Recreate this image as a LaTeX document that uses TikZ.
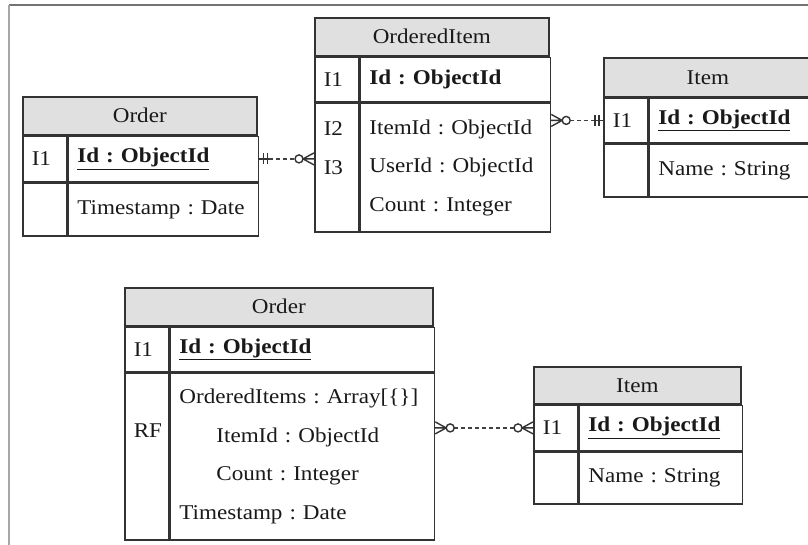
\documentclass[tikz,border=0pt]{standalone}
\usepackage{fontspec}
\setmainfont{Liberation Serif}[FakeStretch=1.1,WordSpace=0.8]
\usepackage{tikz}
\frenchspacing

\newcommand{\pkey}[1]{\underline{\textbf{#1}}}

\tikzset{
  cell/.style={draw=black!80,line width=1.6pt,rectangle,inner sep=0pt,text=black!90,anchor=north west},
  headcell/.style={cell,fill=black!12,minimum height=38pt},
  keycell/.style={cell,inner xsep=9pt,text width=26pt,align=left},
  fieldcell/.style={cell,inner xsep=9pt,align=left},
  relline/.style={draw=black!75,line width=1.4pt,dash pattern=on 4pt off 3pt},
  zeromany/.pic={
    \draw[solid,line width=1.4pt,black!80] (0,-6) -- (11,0) -- (0,6) (0,0) -- (11,0);
    \draw[solid,line width=1.4pt,black!80,fill=white] (15,0) circle (4pt);
  },
  onlyone/.pic={
    \draw[solid,line width=1.4pt,black!80] (0,0) -- (10,0) (4,-5.5) -- (4,5.5) (8,-5.5) -- (8,5.5);
  }
}

\begin{document}
\begin{tikzpicture}[x=1pt,y=-1pt,every node/.style={font=\fontsize{21pt}{38.5pt}\selectfont}]
    \useasboundingbox (0,0) rectangle (808,545);
    \draw[black!55,line width=1.4pt] (808,5) -- (9,5);
    \draw[black!35,line width=1.4pt] (9,5) -- (9,545);

    \node[headcell,minimum width=234pt] (ord-h) at (22,96) {Order};
    \node[keycell,minimum height=45pt] (ord-k1) at (ord-h.south west) {I1};
    \node[fieldcell,text width=172pt,minimum height=45pt] (ord-pk) at (ord-k1.north east) {\pkey{Id : ObjectId}};
    \node[keycell,minimum height=53pt] (ord-k2) at (ord-k1.south west) {};
    \node[fieldcell,text width=172pt,minimum height=53pt] (ord-at) at (ord-k2.north east) {Timestamp : Date};

    \node[headcell,minimum width=234pt] (oi-h) at (314,17) {OrderedItem};
    \node[keycell,minimum height=44pt] (oi-k1) at (oi-h.south west) {I1};
    \node[fieldcell,text width=172pt,minimum height=44pt] (oi-pk) at (oi-k1.north east) {\textbf{Id : ObjectId}};
    \node[keycell,minimum height=129pt] (oi-k2) at (oi-k1.south west) {I2\\I3\\\mbox{}};
    \node[fieldcell,text width=172pt,minimum height=129pt] (oi-at) at (oi-k2.north east) {ItemId : ObjectId\\UserId : ObjectId\\Count : Integer};

    \node[headcell,minimum width=208pt,minimum height=39pt] (it-h) at (603,57) {Item};
    \node[keycell,minimum height=44pt] (it-k1) at (it-h.south west) {I1};
    \node[fieldcell,text width=146pt,minimum height=44pt] (it-pk) at (it-k1.north east) {\pkey{Id : ObjectId}};
    \node[keycell,minimum height=53pt] (it-k2) at (it-k1.south west) {};
    \node[fieldcell,text width=146pt,minimum height=53pt] (it-at) at (it-k2.north east) {Name : String};

    \node[headcell,minimum width=308pt] (ord2-h) at (124,287) {Order};
    \node[keycell,minimum height=44pt] (ord2-k1) at (ord2-h.south west) {I1};
    \node[fieldcell,text width=246pt,minimum height=44pt] (ord2-pk) at (ord2-k1.north east) {\pkey{Id : ObjectId}};
    \node[keycell,minimum height=167pt] (ord2-k2) at (ord2-k1.south west) {\mbox{}\\RF\\\mbox{}\\\mbox{}};
    \node[fieldcell,text width=246pt,minimum height=167pt] (ord2-at) at (ord2-k2.north east) {OrderedItems : Array[\{\}]\\\hspace*{37pt}ItemId : ObjectId\\\hspace*{37pt}Count : Integer\\Timestamp : Date};

    \node[headcell,minimum width=207pt,minimum height=37pt] (it2-h) at (533,366) {Item};
    \node[keycell,minimum height=45pt] (it2-k1) at (it2-h.south west) {I1};
    \node[fieldcell,text width=145pt,minimum height=45pt] (it2-pk) at (it2-k1.north east) {\pkey{Id : ObjectId}};
    \node[keycell,minimum height=52pt] (it2-k2) at (it2-k1.south west) {};
    \node[fieldcell,text width=145pt,minimum height=52pt] (it2-at) at (it2-k2.north east) {Name : String};

    \draw[relline,shorten <=10pt,shorten >=19pt] (ord-pk.east) -- (oi-k2.west |- ord-pk.east);
    \path (ord-pk.east) pic {onlyone};
    \path (oi-k2.west |- ord-pk.east) pic[xscale=-1] {zeromany};

    \draw[relline,shorten <=19pt,shorten >=10pt] (oi-at.east |- it-k1.west) -- (it-k1.west);
    \path (oi-at.east |- it-k1.west) pic {zeromany};
    \path (it-k1.west) pic[xscale=-1] {onlyone};

    \draw[relline,shorten <=19pt,shorten >=19pt] (ord2-at.east |- it2-k1.west) -- (it2-k1.west);
    \path (ord2-at.east |- it2-k1.west) pic {zeromany};
    \path (it2-k1.west) pic[xscale=-1] {zeromany};
  \end{tikzpicture}
\end{document}
